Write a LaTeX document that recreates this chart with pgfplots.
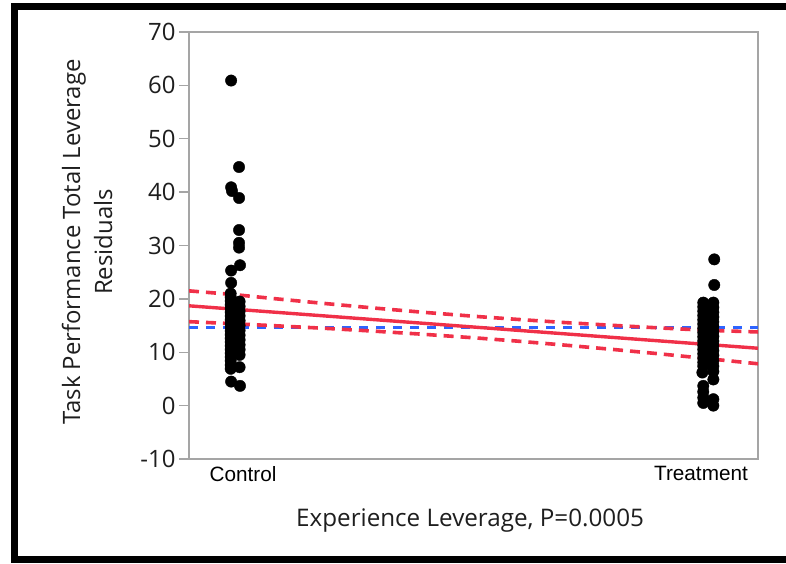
\documentclass[border=0pt]{standalone}
\usepackage{fontspec}
\setmainfont{Open Sans}
\newfontfamily\arialfont{Liberation Sans}
\usepackage{pgfplots}
\pgfplotsset{compat=1.18}
\definecolor{jmpred}{RGB}{240,48,72}
\definecolor{jmpblue}{RGB}{45,100,255}
\definecolor{axgray}{RGB}{165,165,165}
\definecolor{txt}{RGB}{30,30,30}

\pgfplotstableread{
x y
-0.026 60.9
-0.0087 44.7
-0.026 40.9
-0.024 40.2
-0.0087 38.9
-0.0087 32.9
-0.0087 30.5
-0.0087 29.6
-0.0066 26.3
-0.026 25.3
-0.026 23.0
-0.027 21.0
-0.027 20.3
-0.027 19.6
-0.027 18.9
-0.027 18.2
-0.027 17.5
-0.027 16.8
-0.027 16.1
-0.027 15.4
-0.027 14.7
-0.027 14.0
-0.027 13.3
-0.027 12.6
-0.027 11.9
-0.027 11.2
-0.027 10.5
-0.027 9.8
-0.027 9.1
-0.027 8.4
-0.027 7.6
-0.027 6.9
-0.0075 19.5
-0.0075 18.6
-0.0075 17.7
-0.0075 16.8
-0.0075 15.9
-0.0075 15.0
-0.0075 14.1
-0.0075 13.2
-0.0075 12.3
-0.0075 11.4
-0.0075 10.5
-0.0075 9.5
-0.0075 7.2
-0.026 4.5
-0.0066 3.7
}\controldata

\pgfplotstableread{
x y
1.029 27.4
1.029 22.6
1.005 19.3
1.005 18.5
1.005 17.7
1.005 16.9
1.005 16.1
1.005 15.3
1.005 14.5
1.005 13.7
1.005 12.9
1.005 12.1
1.005 11.3
1.005 10.5
1.005 9.7
1.005 8.9
1.005 8.1
1.005 7.4
1.003 6.2
1.005 3.7
1.005 2.6
1.005 1.5
1.005 0.5
1.027 19.3
1.027 18.4
1.027 17.5
1.027 16.6
1.027 15.7
1.027 14.8
1.027 13.9
1.027 13.0
1.027 12.1
1.027 11.2
1.027 10.3
1.027 9.4
1.027 8.4
1.027 7.4
1.027 6.4
1.027 4.9
1.027 1.2
1.027 0.0
}\treatmentdata

\begin{document}
\begin{tikzpicture}
\useasboundingbox (0,0) rectangle (786bp,564bp);
\fill[white] (0,0) rectangle (786bp,564bp);
\draw[line width=6.5bp] (14.5bp,4.5bp) rectangle (800bp,557.5bp);
\begin{axis}[
  at={(189bp,105bp)}, anchor=south west,
  scale only axis, width=569bp, height=427bp,
  xmin=-0.118, xmax=1.1245, ymin=-10, ymax=70,
  axis line style={axgray, line width=1.4bp},
  ytick={-10,0,10,20,30,40,50,60,70},
  yticklabels={-10,0,10,20,30,40,50,60,70},
  y tick label style={font=\fontsize{24}{26}\selectfont, text=txt},
  ytick style={axgray, line width=1.3bp},
  tick align=outside, major tick length=10bp,
  ytick pos=left, xtick pos=bottom,
  xtick={0,1}, xticklabels={Control,Treatment},
  x tick label style={font=\arialfont\fontsize{20.8}{24}\selectfont, text=black, yshift=6bp},
  xtick style={draw=none},
  extra x ticks={-0.118}, extra x tick labels={},
  extra x tick style={xtick style={axgray, line width=1.3bp}, major tick length=8bp},
  xlabel={Experience Leverage, P=0.0005},
  every axis x label/.style={at={(axis description cs:0.494,-0.145)}, anchor=center, font=\fontsize{24.3}{28}\selectfont, text=txt},
  ylabel={Task Performance Total Leverage\\Residuals},
  every axis y label/.style={at={(axis description cs:-0.179,0.508)}, rotate=90, anchor=center, align=center, font=\fontsize{24}{32}\selectfont, text=txt},
]
\addplot[jmpblue, line width=3.6bp, dash pattern=on 9bp off 8bp] coordinates {(-0.118,14.65) (1.1245,14.65)};
\addplot[jmpred, line width=3.6bp, dash pattern=on 10bp off 7bp] coordinates {
(-0.118,21.5) (-0.0175,20.79) (0.0852,19.90) (0.1878,19.06) (0.2904,18.25) (0.3930,17.49) (0.5151,16.67) (0.5983,16.16) (0.7009,15.57) (0.8035,15.06) (0.9061,14.57) (1.0087,14.13) (1.1247,13.8)};
\addplot[jmpred, line width=3.6bp, dash pattern=on 10bp off 7bp] coordinates {
(-0.118,15.73) (-0.0175,15.33) (0.0852,14.90) (0.1878,14.44) (0.2904,13.93) (0.3930,13.37) (0.5151,12.64) (0.5983,12.09) (0.7009,11.35) (0.8035,10.56) (0.9061,9.73) (1.0087,8.85) (1.1247,7.84)};
\addplot[jmpred, line width=3.4bp] coordinates {(-0.118,18.70) (1.1245,10.75)};
\addplot[only marks, mark=*, mark size=5.7bp, mark options={fill=black, draw=black}] table {\controldata};
\addplot[only marks, mark=*, mark size=5.7bp, mark options={fill=black, draw=black}] table {\treatmentdata};
\end{axis}
\end{tikzpicture}
\end{document}
